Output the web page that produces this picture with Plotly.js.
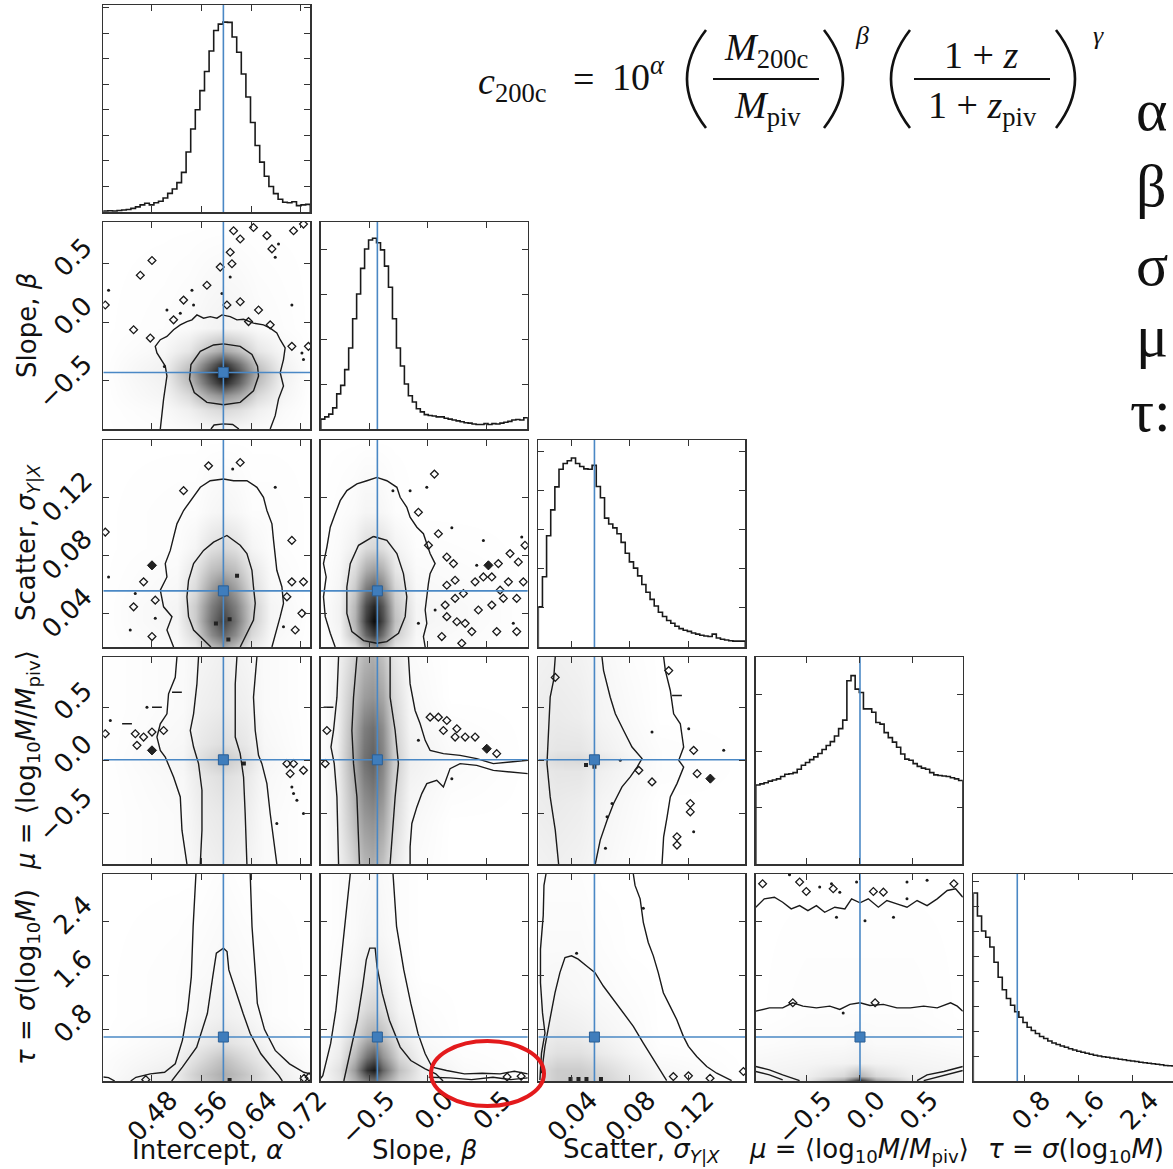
<!DOCTYPE html>
<html><head><meta charset="utf-8">
<script src="https://cdn.plot.ly/plotly-3.0.1.min.js"></script>
<style>html,body{margin:0;padding:0;overflow:hidden;background:#fff;}#plot{width:1240px;height:1169px;}</style>
</head><body><div id="plot"></div>
<script>
// ---------------- variables / axes ----------------
const varNames = ['alpha','beta','sigma','mu','tau'];
const ranges = [[0.4016,0.735],[-0.914,0.857],[0.0168,0.1595],[-0.975,0.972],[0.04,3.1]];
const truth = [0.595,-0.43,0.0555,0.005,0.69];
const tickVals = [[0.48,0.56,0.64,0.72],[-0.5,0,0.5],[0.04,0.08,0.12],[-0.5,0,0.5],[0.8,1.6,2.4]];
const tickText = [['0.48','0.56','0.64','0.72'],['−0.5','0.0','0.5'],['0.04','0.08','0.12'],['−0.5','0.0','0.5'],['0.8','1.6','2.4']];
const rowTitles = ['Slope, <i>β</i>','Scatter, <i>σ</i><sub><i>Y|X</i></sub>','<i>μ</i> = ⟨log<sub>10</sub><i>M</i>/<i>M</i><sub>piv</sub>⟩','<i>τ</i> = <i>σ</i>(log<sub>10</sub><i>M</i>)'];
const colTitles = ['Intercept, <i>α</i>','Slope, <i>β</i>','Scatter, <i>σ</i><sub><i>Y|X</i></sub>','<i>μ</i> = ⟨log<sub>10</sub><i>M</i>/<i>M</i><sub>piv</sub>⟩','<i>τ</i> = <i>σ</i>(log<sub>10</sub><i>M</i>)'];

// ---------------- 1D marginal histograms (counts per bin) ----------------
const histMax = [8.1,4.6,5.3,3.67,8.28];
const histAlpha = [0.04,0.05,0.04,0.06,0.08,0.1,0.14,0.2,0.28,0.34,0.28,0.36,0.42,0.55,0.73,0.9,1.15,1.55,2.35,3.25,4.0,4.75,5.5,6.3,7.1,7.35,7.43,7.42,6.85,6.25,5.4,4.5,3.5,2.6,1.95,1.4,1.0,0.72,0.5,0.38,0.36,0.4,0.25,0.28,0.3];
const histBeta = [0.22,0.27,0.33,0.47,0.78,0.97,1.32,1.8,2.45,3.0,3.57,4.0,4.2,4.24,4.14,3.98,3.62,3.15,2.45,1.8,1.4,1.0,0.74,0.6,0.45,0.38,0.32,0.3,0.29,0.27,0.27,0.24,0.22,0.2,0.18,0.16,0.14,0.13,0.11,0.1,0.1,0.12,0.1,0.12,0.11,0.13,0.15,0.17,0.2,0.21,0.2,0.25];
const histSigma = [1.03,1.8,2.85,3.51,4.1,4.55,4.7,4.77,4.84,4.7,4.62,4.56,4.55,4.65,4.11,3.82,3.3,3.15,3.05,2.9,2.68,2.4,2.18,2.02,1.82,1.6,1.4,1.22,1.05,0.89,0.78,0.68,0.61,0.53,0.47,0.43,0.4,0.36,0.33,0.3,0.28,0.27,0.33,0.23,0.2,0.18,0.16,0.15,0.15,0.15];
const histMu = [1.40,1.42,1.44,1.47,1.49,1.51,1.55,1.59,1.6,1.62,1.68,1.75,1.8,1.85,1.9,1.96,2.03,2.1,2.17,2.27,2.4,2.55,3.25,3.34,3.1,3.04,2.75,2.75,2.69,2.51,2.48,2.33,2.24,2.16,2.07,1.95,1.86,1.84,1.78,1.73,1.7,1.68,1.62,1.58,1.57,1.56,1.55,1.53,1.51,1.48];
const histTau = [7.52,6.6,6.0,5.75,5.36,4.75,4.15,3.65,3.3,3.03,2.77,2.55,2.34,2.15,2.02,1.9,1.78,1.7,1.6,1.52,1.46,1.4,1.35,1.29,1.24,1.19,1.15,1.11,1.07,1.03,1.0,0.97,0.95,0.92,0.9,0.87,0.85,0.82,0.8,0.78,0.75,0.73,0.71,0.69,0.67,0.65,0.62,0.61,0.6,0.59];
const hists = [histAlpha,histBeta,histSigma,histMu,histTau];

// ---------------- 2D panels: density grids ----------------
const AB_gx = [0.40,0.50,0.54,0.57,0.595,0.62,0.65,0.69,0.735];
const AB_gy = [-0.914,-0.75,-0.62,-0.52,-0.44,-0.36,-0.25,-0.05,0.857];
const AB_z = [[0,0.01,0.02,0.03,0.04,0.03,0.02,0.01,0],[0,0.02,0.06,0.12,0.15,0.12,0.06,0.02,0],[0,0.04,0.15,0.35,0.45,0.35,0.15,0.04,0],[0,0.05,0.25,0.6,0.85,0.6,0.25,0.05,0],[0,0.06,0.3,0.7,1.0,0.7,0.3,0.06,0],[0,0.05,0.22,0.55,0.8,0.55,0.22,0.05,0],[0,0.03,0.1,0.25,0.35,0.25,0.1,0.03,0],[0,0.01,0.02,0.04,0.05,0.04,0.02,0.01,0],[0,0,0,0,0,0,0,0,0]];
const AS_gx = [0.40,0.52,0.55,0.575,0.595,0.615,0.64,0.67,0.735];
const AS_gy = [0.0168,0.025,0.035,0.045,0.055,0.07,0.085,0.11,0.16];
const AS_z = [[0,0.02,0.08,0.25,0.35,0.25,0.08,0.02,0],[0,0.03,0.15,0.45,0.6,0.45,0.15,0.03,0],[0,0.04,0.2,0.55,0.75,0.55,0.2,0.04,0],[0,0.04,0.2,0.5,0.65,0.5,0.2,0.04,0],[0,0.03,0.15,0.4,0.55,0.4,0.15,0.03,0],[0,0.02,0.1,0.25,0.3,0.25,0.1,0.02,0],[0,0.01,0.04,0.12,0.15,0.12,0.04,0.01,0],[0,0.01,0.01,0.03,0.04,0.03,0.01,0.01,0],[0,0,0,0,0,0,0,0,0]];
const AM_gx = [0.40,0.53,0.56,0.595,0.63,0.66,0.735];
const AM_gy = [-0.975,-0.5,-0.15,0.0,0.15,0.5,0.972];
const AM_z = [[0,0.02,0.05,0.07,0.05,0.02,0],[0,0.02,0.07,0.09,0.07,0.02,0],[0,0.03,0.09,0.13,0.09,0.03,0],[0,0.04,0.13,0.22,0.13,0.04,0],[0,0.03,0.09,0.13,0.09,0.03,0],[0,0.02,0.06,0.08,0.06,0.02,0],[0,0.02,0.04,0.06,0.04,0.02,0]];
const AT_gx = [0.40,0.52,0.56,0.595,0.63,0.67,0.735];
const AT_gy = [0.04,0.15,0.35,0.6,1.0,1.6,3.1];
const AT_z = [[0.02,0.08,0.2,0.3,0.2,0.08,0.02],[0.01,0.08,0.22,0.32,0.22,0.08,0.01],[0.01,0.05,0.15,0.25,0.15,0.05,0.01],[0,0.03,0.08,0.12,0.08,0.03,0],[0,0.01,0.04,0.06,0.04,0.01,0],[0,0.01,0.02,0.03,0.02,0.01,0],[0,0,0,0.01,0,0,0]];
const BS_gx = [-0.914,-0.75,-0.62,-0.53,-0.46,-0.38,-0.28,-0.1,0.857];
const BS_gy = [0.0168,0.025,0.035,0.045,0.055,0.07,0.085,0.11,0.16];
const BS_z = [[0,0.02,0.1,0.3,0.4,0.3,0.1,0.02,0],[0,0.04,0.25,0.6,0.75,0.55,0.2,0.03,0],[0,0.05,0.3,0.75,0.95,0.7,0.25,0.04,0],[0,0.05,0.28,0.7,0.85,0.65,0.22,0.04,0],[0,0.04,0.22,0.55,0.65,0.5,0.18,0.03,0],[0,0.03,0.14,0.32,0.38,0.3,0.1,0.02,0],[0,0.02,0.06,0.14,0.16,0.12,0.05,0.01,0],[0,0.01,0.02,0.04,0.04,0.03,0.01,0,0],[0,0,0,0,0,0,0,0,0]];
const BM_gx = [-0.914,-0.78,-0.65,-0.55,-0.47,-0.38,-0.3,-0.15,0.2,0.857];
const BM_gy = [-0.975,-0.6,-0.3,0.0,0.3,0.6,0.972];
const BM_z = [[0,0.04,0.15,0.28,0.32,0.24,0.1,0.02,0,0],[0,0.05,0.22,0.38,0.42,0.34,0.15,0.03,0,0],[0,0.05,0.26,0.46,0.52,0.42,0.18,0.04,0.01,0],[0,0.06,0.3,0.55,0.62,0.48,0.22,0.06,0.02,0],[0,0.05,0.27,0.5,0.56,0.44,0.19,0.04,0.01,0],[0,0.05,0.22,0.38,0.42,0.34,0.15,0.03,0,0],[0,0.04,0.15,0.28,0.32,0.24,0.1,0.02,0,0]];
const BT_gx = [-0.914,-0.75,-0.62,-0.52,-0.46,-0.38,-0.25,-0.05,0.3,0.857];
const BT_gy = [0.04,0.2,0.4,0.7,1.1,1.6,2.2,3.1];
const BT_z = [[0.02,0.1,0.3,0.5,0.55,0.4,0.18,0.06,0.02,0.01],[0.02,0.12,0.4,0.8,0.9,0.6,0.25,0.06,0.02,0],[0.01,0.08,0.28,0.55,0.65,0.42,0.16,0.04,0.01,0],[0,0.05,0.15,0.28,0.32,0.24,0.08,0.02,0,0],[0,0.03,0.08,0.15,0.17,0.12,0.04,0.01,0,0],[0,0.02,0.04,0.07,0.08,0.06,0.02,0,0,0],[0,0.01,0.02,0.04,0.04,0.03,0.01,0,0,0],[0,0.01,0.02,0.02,0.03,0.02,0.01,0,0,0]];
const SM_gx = [0.0168,0.03,0.045,0.06,0.08,0.1,0.1595];
const SM_gy = [-0.975,-0.4,-0.1,0.0,0.1,0.4,0.972];
const SM_z = [[0.05,0.06,0.05,0.03,0.01,0,0],[0.07,0.08,0.07,0.04,0.02,0,0],[0.08,0.1,0.1,0.06,0.03,0.01,0],[0.1,0.14,0.15,0.1,0.04,0.01,0],[0.08,0.1,0.1,0.06,0.03,0.01,0],[0.07,0.08,0.07,0.04,0.02,0,0],[0.05,0.06,0.05,0.03,0.01,0,0]];
const ST_gx = [0.0168,0.03,0.045,0.06,0.08,0.1,0.1595];
const ST_gy = [0.04,0.2,0.45,0.8,1.3,2.0,3.1];
const ST_z = [[0.12,0.2,0.22,0.18,0.1,0.04,0],[0.12,0.2,0.2,0.15,0.08,0.03,0],[0.08,0.12,0.12,0.08,0.04,0.01,0],[0.05,0.07,0.06,0.04,0.02,0,0],[0.03,0.04,0.03,0.02,0.01,0,0],[0.02,0.02,0.02,0.01,0,0,0],[0.01,0.01,0.01,0,0,0,0]];
const MT_gx = [-0.975,-0.5,-0.15,0.0,0.15,0.5,0.972];
const MT_gy = [0.04,0.12,0.3,0.6,1.0,3.1];
const MT_z = [[0.05,0.08,0.4,0.9,0.4,0.08,0.05],[0.04,0.06,0.15,0.3,0.15,0.06,0.04],[0.03,0.04,0.05,0.06,0.05,0.04,0.03],[0.01,0.02,0.02,0.03,0.02,0.02,0.01],[0,0.01,0.01,0.01,0.01,0.01,0],[0,0,0,0,0,0,0]];

// ---------------- 2D panels: contour lines (x,y pairs) ----------------
const AB_outer = [[0.4934,-0.914],[0.4987,-0.658],[0.5041,-0.461],[0.5014,-0.376],[0.488,-0.263],[0.4853,-0.207],[0.4934,-0.15],[0.5041,-0.122],[0.5148,-0.065],[0.5256,-0.023],[0.5363,0.005],[0.5444,0.02],[0.5524,0.062],[0.5631,0.034],[0.5738,0.047],[0.5846,0.034],[0.5927,0.062],[0.606,0.047],[0.6168,0.02],[0.6275,0.025],[0.6435,-0.008],[0.6596,-0.023],[0.6704,-0.051],[0.6811,-0.093],[0.6865,-0.15],[0.6945,-0.22],[0.6918,-0.32],[0.6865,-0.432],[0.6918,-0.546],[0.6838,-0.658],[0.6785,-0.8],[0.6704,-0.914]];
const AB_inner = [[0.5953,-0.186],[0.6221,-0.207],[0.641,-0.277],[0.65,-0.376],[0.6516,-0.461],[0.6435,-0.588],[0.6221,-0.686],[0.5953,-0.707],[0.5685,-0.686],[0.5481,-0.602],[0.5405,-0.489],[0.5428,-0.362],[0.5578,-0.249],[0.5792,-0.195],[0.5953,-0.186]];
const AB_bottom = [[0.575,-0.914],[0.58,-0.88],[0.595,-0.87],[0.61,-0.875],[0.62,-0.914]];
const AS_outer = [[0.5148,0.0168],[0.5041,0.0285],[0.5122,0.0377],[0.4987,0.0445],[0.4934,0.056],[0.5041,0.0651],[0.5014,0.0743],[0.5095,0.0834],[0.5148,0.0925],[0.5202,0.1017],[0.5309,0.1109],[0.547,0.12],[0.5578,0.1269],[0.5738,0.1314],[0.5953,0.1326],[0.6114,0.1314],[0.6329,0.1314],[0.649,0.1269],[0.6596,0.12],[0.6651,0.1109],[0.6732,0.1017],[0.6758,0.0903],[0.6785,0.0812],[0.6811,0.0697],[0.6893,0.0582],[0.6918,0.0469],[0.6865,0.0377],[0.6811,0.0285],[0.6732,0.0168]];
const AS_inner = [[0.575,0.0168],[0.5631,0.0217],[0.547,0.0285],[0.5389,0.0377],[0.5363,0.0514],[0.5389,0.0628],[0.547,0.0743],[0.5631,0.0834],[0.5792,0.0891],[0.6007,0.0937],[0.6114,0.0903],[0.6221,0.0869],[0.6329,0.0812],[0.641,0.0697],[0.6435,0.0582],[0.6463,0.0469],[0.6435,0.0354],[0.6355,0.0285],[0.6275,0.0217],[0.6221,0.0168]];
const AM_left2 = [[0.5202,0.972],[0.5175,0.781],[0.5067,0.626],[0.5041,0.438],[0.4934,0.344],[0.488,0.219],[0.4934,0.094],[0.5014,0.031],[0.5148,-0.157],[0.5256,-0.344],[0.5283,-0.657],[0.5363,-0.975]];
const AM_left1 = [[0.555,0.972],[0.5524,0.719],[0.547,0.438],[0.5417,0.281],[0.547,0.125],[0.555,-0.031],[0.5605,-0.281],[0.5605,-0.657],[0.5578,-0.975]];
const AM_right1 = [[0.6168,0.972],[0.6141,0.719],[0.6141,0.438],[0.6141,0.219],[0.6221,0.063],[0.6275,-0.157],[0.6301,-0.5],[0.6329,-0.975]];
const AM_right2 = [[0.649,0.972],[0.6435,0.594],[0.6463,0.281],[0.6516,0.047],[0.657,-0.031],[0.6651,-0.219],[0.6704,-0.5],[0.6811,-0.975]];
const AT_outerL = [[0.5508,3.1],[0.5463,2.326],[0.5434,1.582],[0.5376,1.087],[0.529,0.641],[0.5175,0.294],[0.5003,0.169],[0.4773,0.146],[0.4542,0.095],[0.4457,0.04]];
const AT_outerR = [[0.6382,3.1],[0.6411,2.326],[0.6469,1.582],[0.6497,1.186],[0.6613,0.8],[0.6785,0.492],[0.7015,0.294],[0.7245,0.169],[0.735,0.146]];
const AT_inner = [[0.5117,0.04],[0.529,0.244],[0.552,0.541],[0.5692,1.038],[0.5779,1.582],[0.5837,1.93],[0.5951,2.004],[0.6009,1.954],[0.6038,1.682],[0.6123,1.433],[0.6268,1.038],[0.6382,0.741],[0.6554,0.443],[0.6727,0.244],[0.6843,0.12],[0.6899,0.04]];
const AT_corner = [[0.4016,0.1],[0.41,0.09],[0.42,0.04]];
const BS_outer = [[-0.791,0.0168],[-0.833,0.0263],[-0.876,0.0377],[-0.891,0.0514],[-0.868,0.0651],[-0.891,0.0743],[-0.862,0.0857],[-0.833,0.0994],[-0.791,0.1086],[-0.748,0.1177],[-0.691,0.1246],[-0.605,0.1292],[-0.52,0.1314],[-0.434,0.1337],[-0.349,0.1314],[-0.263,0.1269],[-0.235,0.12],[-0.178,0.1131],[-0.15,0.1063],[-0.092,0.0994],[-0.036,0.0949],[-0.007,0.088],[0.021,0.0812],[0.064,0.0743],[0.021,0.0674],[0.007,0.0606],[-0.007,0.0514],[-0.021,0.0423],[-0.007,0.0331],[-0.036,0.024],[-0.021,0.0168]];
const BS_inner = [[-0.463,0.093],[-0.349,0.0903],[-0.263,0.0812],[-0.207,0.0674],[-0.178,0.0514],[-0.192,0.0377],[-0.249,0.0263],[-0.349,0.0205],[-0.434,0.0194],[-0.548,0.0212],[-0.648,0.0274],[-0.691,0.04],[-0.691,0.0582],[-0.662,0.0743],[-0.591,0.0869],[-0.463,0.093]];
const BM_left2 = [[-0.762,0.972],[-0.776,0.594],[-0.805,0.281],[-0.827,0.125],[-0.799,-0.031],[-0.776,-0.344],[-0.762,-0.975]];
const BM_left1 = [[-0.605,0.972],[-0.634,0.594],[-0.648,0.281],[-0.634,-0.031],[-0.605,-0.344],[-0.583,-0.975]];
const BM_right1 = [[-0.321,0.972],[-0.321,0.594],[-0.278,0.281],[-0.25,-0.031],[-0.278,-0.344],[-0.321,-0.975]];
const BM_right2a = [[-0.164,0.972],[-0.15,0.719],[-0.107,0.469],[-0.064,0.344],[-0.021,0.188],[0.021,0.094],[0.135,0.063],[0.278,0.047],[0.42,0.016],[0.562,-0.031],[0.705,-0.016],[0.857,0.0]];
const BM_right2b = [[0.857,-0.125],[0.705,-0.109],[0.562,-0.094],[0.42,-0.047],[0.278,-0.031],[0.192,-0.078],[0.135,-0.25],[0.078,-0.188],[-0.007,-0.219],[-0.05,-0.313],[-0.092,-0.438],[-0.135,-0.594],[-0.15,-0.813],[-0.15,-0.975]];
const BT_outerL = [[-0.662,3.1],[-0.693,2.574],[-0.738,1.83],[-0.785,1.087],[-0.83,0.592],[-0.876,0.244],[-0.897,0.12],[-0.914,0.08]];
const BT_outerR = [[-0.296,3.1],[-0.266,2.326],[-0.204,1.682],[-0.144,1.187],[-0.082,0.74],[-0.021,0.443],[0.039,0.244],[0.162,0.195],[0.315,0.146],[0.467,0.155],[0.62,0.146],[0.742,0.185],[0.857,0.146]];
const BT_low = [[0.009,0.096],[0.192,0.086],[0.375,0.061],[0.559,0.096],[0.711,0.061],[0.857,0.086]];
const BT_inner = [[-0.717,0.04],[-0.678,0.343],[-0.602,0.938],[-0.556,1.434],[-0.525,1.83],[-0.495,2.004],[-0.449,2.004],[-0.433,1.731],[-0.388,1.335],[-0.327,0.938],[-0.235,0.541],[-0.144,0.343],[-0.021,0.219],[0.07,0.146],[0.132,0.04]];
const SM_left = [[0.0285,0.972],[0.0273,0.75],[0.025,0.594],[0.0239,0.281],[0.0228,-0.031],[0.025,-0.344],[0.0285,-0.657],[0.0308,-0.975]];
const SM_mid = [[0.0607,0.972],[0.0618,0.844],[0.0664,0.594],[0.0699,0.438],[0.0756,0.281],[0.0814,0.125],[0.0883,0.016],[0.0849,-0.063],[0.0802,-0.156],[0.0745,-0.25],[0.0687,-0.406],[0.0642,-0.563],[0.0595,-0.75],[0.0561,-0.975]];
const SM_right = [[0.1032,0.972],[0.1044,0.844],[0.1078,0.657],[0.1101,0.438],[0.1147,0.344],[0.117,0.125],[0.1136,0.0],[0.117,-0.063],[0.1124,-0.219],[0.1078,-0.344],[0.1056,-0.531],[0.1032,-0.719],[0.1021,-0.975]];
const ST_left = [[0.0221,3.1],[0.0207,2.931],[0.0202,2.485],[0.0183,1.99],[0.0183,1.493],[0.0197,1.047],[0.0214,0.749],[0.019,0.452],[0.0179,0.056]];
const ST_inner = [[0.019,0.155],[0.0214,0.552],[0.0248,0.949],[0.0283,1.344],[0.0317,1.642],[0.0352,1.865],[0.0397,1.89],[0.0443,1.841],[0.0501,1.741],[0.0559,1.642],[0.0616,1.444],[0.0685,1.246],[0.0754,1.047],[0.0823,0.849],[0.0892,0.601],[0.0961,0.354],[0.1018,0.155],[0.1053,0.046]];
const ST_outer = [[0.0823,3.1],[0.0835,2.931],[0.087,2.733],[0.0892,2.385],[0.0926,2.088],[0.0961,1.89],[0.0995,1.642],[0.103,1.344],[0.1076,1.146],[0.1122,0.949],[0.1168,0.7],[0.1203,0.552],[0.126,0.403],[0.1329,0.254],[0.1398,0.155],[0.1467,0.081],[0.1501,0.046]];
const MT_top = [[-0.975,2.609],[-0.895,2.733],[-0.8,2.757],[-0.722,2.683],[-0.642,2.584],[-0.563,2.633],[-0.485,2.559],[-0.405,2.633],[-0.327,2.534],[-0.232,2.609],[-0.137,2.584],[-0.074,2.733],[0.005,2.674],[0.083,2.733],[0.178,2.609],[0.258,2.708],[0.352,2.659],[0.447,2.609],[0.542,2.708],[0.636,2.633],[0.731,2.733],[0.826,2.857],[0.904,2.882],[0.972,2.757]];
const MT_mid = [[-0.975,1.072],[-0.847,1.121],[-0.722,1.121],[-0.627,1.196],[-0.532,1.146],[-0.405,1.121],[-0.279,1.146],[-0.185,1.097],[-0.09,1.172],[0.005,1.196],[0.099,1.157],[0.225,1.172],[0.352,1.121],[0.478,1.121],[0.604,1.146],[0.731,1.121],[0.857,1.196],[0.92,1.146],[0.972,1.072]];
const MT_botL1 = [[-0.975,0.254],[-0.847,0.205],[-0.722,0.131],[-0.627,0.081],[-0.563,0.046]];
const MT_botL2 = [[-0.975,0.18],[-0.847,0.131],[-0.722,0.056]];
const MT_botR1 = [[0.542,0.046],[0.636,0.131],[0.794,0.18],[0.92,0.229],[0.972,0.254]];
const MT_botR2 = [[0.604,0.046],[0.731,0.095],[0.857,0.145],[0.972,0.195]];

// ---------------- 2D panels: isolated small contour islands / points ----------------
const AB_islands = [[0.48,0.528],[0.4612,0.401],[0.4048,0.147],[0.4504,-0.065],[0.4773,-0.136],[0.5148,0.02],[0.5309,0.189],[0.5685,0.316],[0.5899,0.471],[0.606,0.598],[0.6088,0.5],[0.6007,0.147],[0.6114,0.782],[0.6221,0.712],[0.6435,0.81],[0.6651,0.74],[0.6732,0.627],[0.708,0.782],[0.724,0.839],[0.6355,0.005],[0.6516,0.104],[0.6221,0.175],[0.6704,-0.023],[0.7053,-0.207],[0.732,-0.207]];
const AB_dots = [[0.4101,0.274],[0.5041,0.104],[0.5256,0.076],[0.5444,0.274],[0.547,0.147],[0.5927,0.246],[0.606,0.386],[0.6838,0.669],[0.6785,0.556],[0.7053,0.147],[0.7215,-0.263],[0.724,-0.32],[0.5,-0.38]];
const AS_islands = [[0.5711,0.1417],[0.6221,0.144],[0.5309,0.1246],[0.4665,0.0617],[0.4504,0.0445],[0.4853,0.0491],[0.48,0.024],[0.4048,0.096],[0.7053,0.0903],[0.7053,0.0617],[0.724,0.0617],[0.7215,0.04],[0.7107,0.0285],[0.6973,0.0514]];
const AS_dots = [[0.6785,0.1269],[0.4531,0.0537],[0.4853,0.0366],[0.445,0.0285],[0.4101,0.0651],[0.6918,0.0308],[0.61,0.1395]];
const AS_dark = [[0.48,0.0731]];
const AS_pixels = [[0.583,0.033],[0.605,0.036],[0.603,0.022],[0.617,0.066]];
const AM_islands = [[0.4048,0.25],[0.4531,0.25],[0.4665,0.219],[0.48,0.266],[0.4558,0.141],[0.4987,0.281],[0.6973,-0.031],[0.708,-0.031],[0.724,-0.094],[0.7026,-0.125]];
const AM_dots = [[0.4129,0.375],[0.4719,0.5],[0.7053,-0.25],[0.708,-0.313],[0.7134,-0.375],[0.724,-0.5],[0.6811,-0.594]];
const AM_dashes = [[0.4398,0.344],[0.488,0.5],[0.5202,0.64]];
const AM_dark = [[0.48,0.094]];
const AM_pixels = [[0.628,-0.03]];
const AT_islands = [[0.725,0.08],[0.733,0.1],[0.47,0.06]];
const AT_pixels = [[0.605,0.055]];
const BS_islands = [[0.058,0.136],[-0.079,0.1097],[0.092,0.0949],[0.007,0.0869],[0.164,0.0788],[0.221,0.0743],[0.833,0.0869],[0.705,0.0812],[0.605,0.0743],[0.776,0.0754],[0.235,0.0628],[0.164,0.0594],[0.306,0.0537],[0.406,0.0617],[0.477,0.0651],[0.549,0.0651],[0.691,0.0617],[0.819,0.0617],[0.62,0.056],[0.235,0.0503],[0.15,0.0457],[0.164,0.0377],[0.25,0.0342],[0.321,0.0331],[0.434,0.0423],[0.549,0.0457],[0.648,0.0503],[0.762,0.0503],[0.378,0.0274],[0.591,0.0274],[0.762,0.0274],[0.121,0.024],[0.292,0.0194]];
const BS_dots = [[-0.007,0.1269],[-0.15,0.1246],[-0.297,0.1246],[0.207,0.099],[0.477,0.0903],[0.805,0.0926],[0.42,0.0731],[0.064,0.0423],[0.733,0.0331],[-0.079,0.0331]];
const BS_dark = [[0.52,0.0731]];
const BM_islands = [[-0.862,0.281],[-0.876,-0.031],[0.021,0.406],[0.092,0.406],[0.164,0.375],[0.135,0.281],[0.25,0.297],[0.321,0.219],[0.235,0.219],[0.406,0.219],[0.591,0.063]];
const BM_dots = [[-0.079,0.188],[0.207,-0.172]];
const BM_dashes = [[-0.848,0.5]];
const BM_dark = [[0.506,0.109]];
const BT_islands = [[0.68,0.1],[0.8,0.11]];
const SM_islands = [[0.1067,0.844],[0.1239,0.094],[0.1263,-0.125],[0.1216,-0.406],[0.1216,-0.485],[0.1124,-0.719],[0.1124,-0.797],[0.0952,-0.203],[0.0861,-0.094],[0.0285,0.78]];
const SM_dots = [[0.1205,0.297],[0.1446,0.094],[0.1239,-0.672],[0.0676,-0.406],[0.0642,-0.531],[0.0631,-0.828],[0.0952,0.266],[0.0733,0.0]];
const SM_dashes = [[0.1124,0.61]];
const SM_dark = [[0.1354,-0.172]];
const SM_pixels = [[0.0497,-0.045],[0.0555,-0.06]];
const ST_islands = [[0.1099,0.105],[0.1203,0.116],[0.1352,0.081],[0.1582,0.18]];
const ST_dots = [[0.0432,1.93],[0.0892,2.594]];
const ST_pixels = [[0.039,0.07],[0.0445,0.07],[0.05,0.07],[0.06,0.07]];
const MT_islands = [[-0.911,2.956],[-0.563,2.981],[-0.5,2.841],[-0.247,2.882],[0.131,2.841],[0.225,2.832],[0.888,2.956],[0.147,1.196],[-0.627,1.196]];
const MT_dots = [[-0.658,3.09],[-0.374,2.906],[-0.263,2.956],[-0.185,2.832],[-0.027,2.981],[0.447,2.981],[0.636,3.006],[0.052,2.41],[-0.216,2.46],[0.32,2.46],[0.447,2.733],[-0.153,1.047]];

// ---------------- panel registry ----------------
const panels = {
  '1,0': {g:[AB_gx,AB_gy,AB_z], lines:[AB_outer,AB_inner,AB_bottom], isl:AB_islands, dots:AB_dots},
  '2,0': {g:[AS_gx,AS_gy,AS_z], lines:[AS_outer,AS_inner], isl:AS_islands, dots:AS_dots, dark:AS_dark, pix:AS_pixels},
  '3,0': {g:[AM_gx,AM_gy,AM_z], lines:[AM_left2,AM_left1,AM_right1,AM_right2], isl:AM_islands, dots:AM_dots, dash:AM_dashes, dark:AM_dark, pix:AM_pixels},
  '4,0': {g:[AT_gx,AT_gy,AT_z], lines:[AT_outerL,AT_outerR,AT_inner,AT_corner], isl:AT_islands, pix:AT_pixels},
  '2,1': {g:[BS_gx,BS_gy,BS_z], lines:[BS_outer,BS_inner], isl:BS_islands, dots:BS_dots, dark:BS_dark},
  '3,1': {g:[BM_gx,BM_gy,BM_z], lines:[BM_left2,BM_left1,BM_right1,BM_right2a,BM_right2b], isl:BM_islands, dots:BM_dots, dash:BM_dashes, dark:BM_dark},
  '4,1': {g:[BT_gx,BT_gy,BT_z], lines:[BT_outerL,BT_outerR,BT_low,BT_inner], isl:BT_islands},
  '3,2': {g:[SM_gx,SM_gy,SM_z], lines:[SM_left,SM_mid,SM_right], isl:SM_islands, dots:SM_dots, dash:SM_dashes, dark:SM_dark, pix:SM_pixels},
  '4,2': {g:[ST_gx,ST_gy,ST_z], lines:[ST_left,ST_inner,ST_outer], isl:ST_islands, dots:ST_dots, pix:ST_pixels},
  '4,3': {g:[MT_gx,MT_gy,MT_z], lines:[MT_top,MT_mid,MT_botL1,MT_botL2,MT_botR1,MT_botR2], isl:MT_islands, dots:MT_dots}
};

// ---------------- layout geometry (pixels) ----------------
const W = 1240, H = 1169;
const LEFTS = [103.3,320.8,538.3,755.8,973.3];
const TOPS = [5,222,440,657,874];
const SIZE = 207;
const px = v => v / W;
const py = v => 1 - v / H;
const INK = '#1a1a1a', BLUE = '#4a88c5';

const traces = [];
const layout = {width:W, height:H, margin:{l:0,r:0,t:0,b:0}, paper_bgcolor:'#fff', plot_bgcolor:'#fff', showlegend:false, annotations:[], shapes:[]};

function axisBase(){
  return {showline:true, linecolor:'#333', linewidth:1.5, mirror:'ticks', ticks:'inside', ticklen:6, tickwidth:1, tickcolor:'#333',
          showgrid:false, zeroline:false, fixedrange:true, tickangle:-45, tickfont:{family:'DejaVu Sans', size:26, color:'#111'}};
}
function pts(arr, xa, ya, extra){
  return Object.assign({type:'scatter', x:arr.map(p=>p[0]), y:arr.map(p=>p[1]), xaxis:xa, yaxis:ya, hoverinfo:'skip', showlegend:false}, extra);
}

let k = 0;
for (let r = 0; r < 5; r++) {
  for (let c = 0; c <= r; c++) {
    k++;
    const xa = k === 1 ? 'x' : 'x' + k, ya = k === 1 ? 'y' : 'y' + k;
    const xkey = k === 1 ? 'xaxis' : 'xaxis' + k, ykey = k === 1 ? 'yaxis' : 'yaxis' + k;
    const isHist = r === c;
    const xAx = Object.assign(axisBase(), {domain:[px(LEFTS[c]), px(LEFTS[c] + SIZE)], range:ranges[c], tickmode:'array', tickvals:tickVals[c], ticktext:tickText[c], showticklabels:r === 4, anchor:ya, ticklabelshift:18, ticklabelstandoff:-8});
    const yAx = Object.assign(axisBase(), {domain:[py(TOPS[r] + SIZE), py(TOPS[r])], anchor:xa});
    if (isHist) {
      Object.assign(yAx, {range:[0, histMax[r]], tickmode:'linear', tick0:0, dtick:1, showticklabels:false});
    } else {
      Object.assign(yAx, {range:ranges[r], tickmode:'array', tickvals:tickVals[r], ticktext:tickText[r], showticklabels:c === 0, ticklabelshift:-20, ticklabelstandoff:12});
    }
    layout[xkey] = xAx; layout[ykey] = yAx;

    if (isHist) {
      const counts = hists[r], lo = ranges[r][0], hi = ranges[r][1], n = counts.length, w = (hi - lo) / n;
      const xs = [lo], ys = [0];
      for (let i = 0; i < n; i++) { xs.push(lo + i * w); ys.push(counts[i]); }
      xs.push(hi); ys.push(counts[n - 1]); xs.push(hi); ys.push(0);
      traces.push({type:'scatter', mode:'lines', x:xs, y:ys, xaxis:xa, yaxis:ya, line:{color:INK, width:1.6, shape:'hv'}, hoverinfo:'skip', showlegend:false});
      traces.push({type:'scatter', mode:'lines', x:[truth[c], truth[c]], y:[0, histMax[r]], xaxis:xa, yaxis:ya, line:{color:BLUE, width:1.6}, hoverinfo:'skip', showlegend:false});
    } else {
      const P = panels[r + ',' + c];
      traces.push({type:'heatmap', x:P.g[0], y:P.g[1], z:P.g[2], zsmooth:'best', zmin:0, zmax:1, colorscale:[[0,'#ffffff'],[1,'#000000']], showscale:false, xaxis:xa, yaxis:ya, hoverinfo:'skip'});
      if (P.pix) traces.push(pts(P.pix, xa, ya, {mode:'markers', marker:{symbol:'square', size:4, color:'#222'}}));
      P.lines.forEach(L => traces.push(pts(L, xa, ya, {mode:'lines', line:{color:INK, width:1.4}})));
      if (P.isl) traces.push(pts(P.isl, xa, ya, {mode:'markers', marker:{symbol:'diamond-open', size:6, color:INK, line:{width:1.3, color:INK}}}));
      if (P.dots) traces.push(pts(P.dots, xa, ya, {mode:'markers', marker:{symbol:'circle', size:3, color:INK}}));
      if (P.dash) traces.push(pts(P.dash, xa, ya, {mode:'markers', marker:{symbol:'line-ew', size:7, line:{width:1.6, color:INK}}}));
      if (P.dark) traces.push(pts(P.dark, xa, ya, {mode:'markers', marker:{symbol:'diamond', size:7, color:'#222', line:{width:1, color:INK}}}));
      traces.push({type:'scatter', mode:'lines', x:[truth[c], truth[c]], y:ranges[r], xaxis:xa, yaxis:ya, line:{color:BLUE, width:1.6}, hoverinfo:'skip', showlegend:false});
      traces.push({type:'scatter', mode:'lines', x:ranges[c], y:[truth[r], truth[r]], xaxis:xa, yaxis:ya, line:{color:BLUE, width:1.6}, hoverinfo:'skip', showlegend:false});
      traces.push({type:'scatter', mode:'markers', x:[truth[c]], y:[truth[r]], xaxis:xa, yaxis:ya, marker:{symbol:'square', size:10, color:'#3f7dbc', line:{width:1, color:'#2c5f94'}}, hoverinfo:'skip', showlegend:false});
    }
  }
}

// axis titles
const titleFont = {family:'DejaVu Sans', size:26, color:'#111'};
const rowTitleY = [326, 543, 760, 977];
rowTitles.forEach((t, i) => layout.annotations.push({text:t, x:px(27), y:py(rowTitleY[i]), xref:'paper', yref:'paper', textangle:-90, showarrow:false, font:titleFont, xanchor:'center', yanchor:'middle'}));
const colTitleX = [207, 424, 641, 859, 1076];
colTitles.forEach((t, i) => layout.annotations.push({text:t, x:px(colTitleX[i]), y:py(1150), xref:'paper', yref:'paper', showarrow:false, font:titleFont, xanchor:'center', yanchor:'middle'}));

// formula
const fF = {family:'Liberation Serif', size:38, color:'#111'};
const fS = {family:'Liberation Serif', size:26, color:'#111'};
const fA = (text, x, y, font, xanchor) => layout.annotations.push({text, x:px(x), y:py(y), xref:'paper', yref:'paper', showarrow:false, font, xanchor:xanchor || 'center', yanchor:'middle'});
fA('<i>c</i><sub>200c</sub>', 476, 84, fF, 'left');
fA('=', 583, 79, fF);
fA('10<sup><i>α</i></sup>', 610, 74, fF, 'left');
fA('<i>M</i><sub>200c</sub>', 766, 50, fF);
fA('<i>M</i><sub>piv</sub>', 767, 108, fF);
fA('<i>β</i>', 862, 35, fS);
fA('1 + <i>z</i>', 981, 55, fF);
fA('1 + <i>z</i><sub>piv</sub>', 982, 108, fF);
fA('<i>γ</i>', 1098, 35, fS);
layout.shapes.push({type:'line', xref:'paper', yref:'paper', x0:px(713), x1:px(819), y0:py(79), y1:py(79), line:{color:'#111', width:2}});
layout.shapes.push({type:'line', xref:'paper', yref:'paper', x0:px(914), x1:px(1050), y0:py(79), y1:py(79), line:{color:'#111', width:2}});
const paren = (x0, xm) => `M ${px(x0)},${py(30)} Q ${px(2*xm - x0)},${py(79)} ${px(x0)},${py(128)}`;
[[706,687],[824,843],[910,891],[1056,1075]].forEach(p => layout.shapes.push({type:'path', xref:'paper', yref:'paper', path:paren(p[0], p[1]), line:{color:'#111', width:2.6}}));

// right-hand symbol list (as far as the reference shows it)
const symList = ['α','β','σ','μ','τ:'];
const symX = [1134, 1134, 1134, 1134, 1128];
const symY = [110, 186, 265, 336, 411];
symList.forEach((s, i) => layout.annotations.push({text:s, x:px(symX[i]), y:py(symY[i]), xref:'paper', yref:'paper', showarrow:false, xanchor:'left', yanchor:'middle', font:{family:'Liberation Serif', size:60, color:'#111'}}));

// red highlight ellipse
layout.shapes.push({type:'circle', xref:'paper', yref:'paper', x0:px(431), x1:px(544), y0:py(1106), y1:py(1041), line:{color:'#e31a1c', width:4}, layer:'above'});

Plotly.newPlot('plot', traces, layout, {staticPlot:true, displayModeBar:false, responsive:false});
</script>
</body></html>
